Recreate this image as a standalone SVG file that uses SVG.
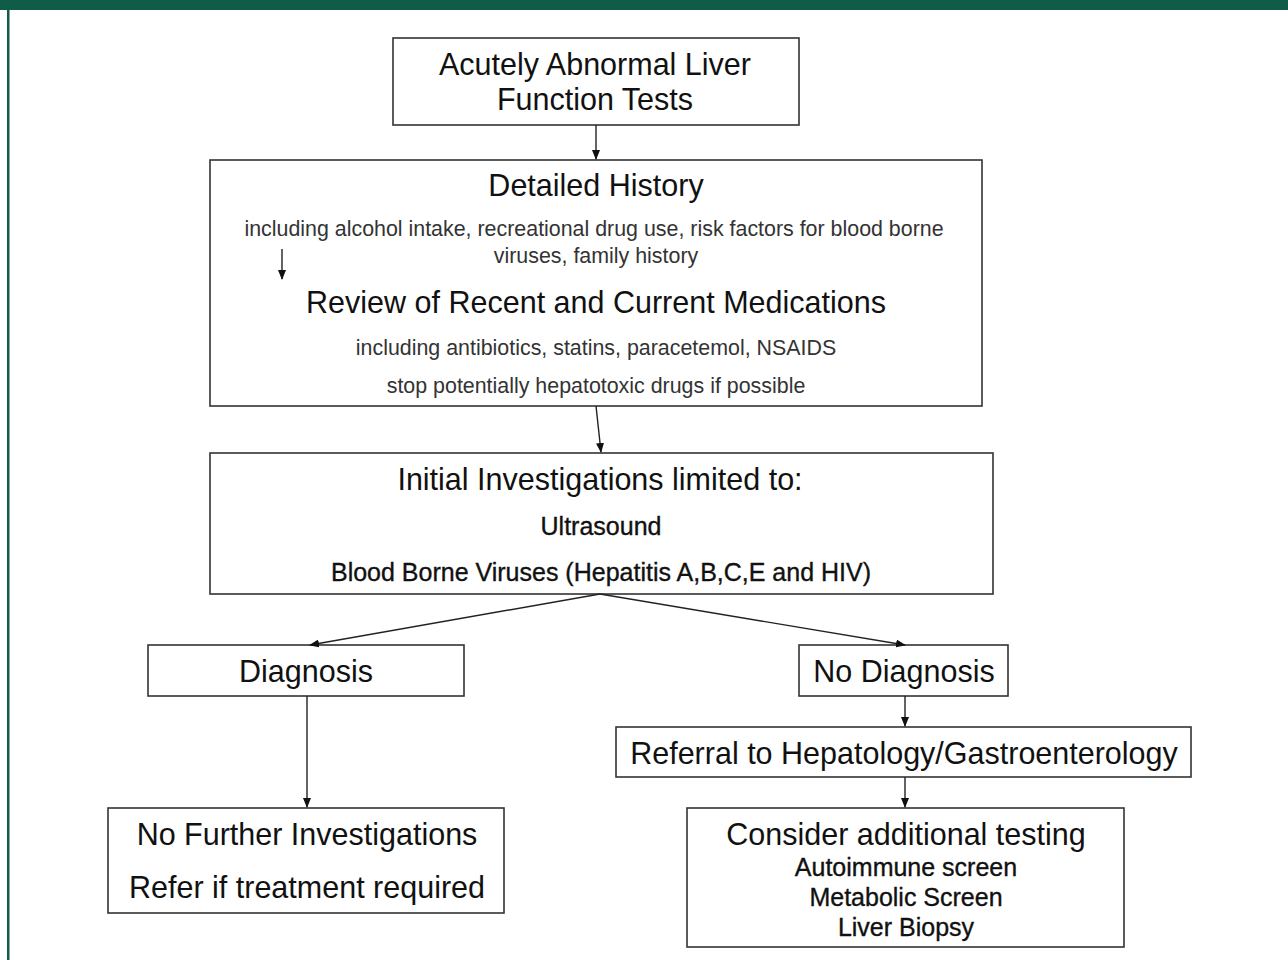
<svg xmlns="http://www.w3.org/2000/svg" width="1288" height="960" viewBox="0 0 1288 960">
<defs>
<marker id="ah" markerWidth="10" markerHeight="8" refX="9" refY="4" orient="auto" markerUnits="userSpaceOnUse">
<path d="M0,0 L10,4 L0,8 z" fill="#111"/>
</marker>
<style>
.box{fill:#fff;stroke:#333;stroke-width:1.6}
.t{font-family:"Liberation Sans",Arial,sans-serif;fill:#111;text-anchor:middle}
.big{font-size:30.5px}
.sm{font-size:21.4px;fill:#333}
.md{font-size:25px;stroke:#111;stroke-width:0.35}
.con{stroke:#222;stroke-width:1.4;fill:none;marker-end:url(#ah)}
</style>
</defs>
<rect width="1288" height="960" fill="#fff"/>
<rect x="0" y="0" width="1288" height="10" fill="#115c48"/>
<rect x="7" y="0" width="2.5" height="960" fill="#115c48"/>

<g id="n1">
<rect class="box" x="393" y="38" width="406" height="87"/>
<text class="t big" x="595" y="75">Acutely Abnormal Liver</text>
<text class="t big" x="595" y="110">Function Tests</text>
</g>

<g id="n2">
<rect class="box" x="210" y="160" width="772" height="246"/>
<text class="t big" x="596" y="196">Detailed History</text>
<text class="t sm" x="594" y="236">including alcohol intake, recreational drug use, risk factors for blood borne</text>
<text class="t sm" x="596" y="263">viruses, family history</text>
<text class="t big" x="596" y="313">Review of Recent and Current Medications</text>
<text class="t sm" x="596" y="355">including antibiotics, statins, paracetemol, NSAIDS</text>
<text class="t sm" x="596" y="393">stop potentially hepatotoxic drugs if possible</text>
</g>

<g id="n3">
<rect class="box" x="210" y="453" width="783" height="141"/>
<text class="t big" x="600" y="490">Initial Investigations limited to:</text>
<text class="t md" x="601" y="535">Ultrasound</text>
<text class="t md" x="601" y="581">Blood Borne Viruses (Hepatitis A,B,C,E and HIV)</text>
</g>

<g id="n4">
<rect class="box" x="148" y="645" width="316" height="51"/>
<text class="t big" x="306" y="682">Diagnosis</text>
</g>

<g id="n5">
<rect class="box" x="799" y="645" width="209" height="51"/>
<text class="t big" x="904" y="682">No Diagnosis</text>
</g>

<g id="n6">
<rect class="box" x="616" y="727" width="575" height="50"/>
<text class="t big" x="904" y="764">Referral to Hepatology/Gastroenterology</text>
</g>

<g id="n7">
<rect class="box" x="108" y="808" width="396" height="105"/>
<text class="t big" x="307" y="845">No Further Investigations</text>
<text class="t big" x="307" y="898">Refer if treatment required</text>
</g>

<g id="n8">
<rect class="box" x="687" y="808" width="437" height="139"/>
<text class="t big" x="906" y="845">Consider additional testing</text>
<text class="t md" x="906" y="876">Autoimmune screen</text>
<text class="t md" x="906" y="906">Metabolic Screen</text>
<text class="t md" x="906" y="936">Liver Biopsy</text>
</g>

<g id="connectors">
<line class="con" x1="596" y1="125" x2="596" y2="159"/>
<line class="con" x1="282" y1="249" x2="282" y2="279"/>
<line class="con" x1="596" y1="406" x2="601" y2="452"/>
<line class="con" x1="600" y1="594" x2="310" y2="645"/>
<line class="con" x1="600" y1="594" x2="905" y2="645"/>
<line class="con" x1="307" y1="696" x2="307" y2="807"/>
<line class="con" x1="905" y1="696" x2="905" y2="726"/>
<line class="con" x1="905" y1="777" x2="905" y2="807"/>
</g>
</svg>
